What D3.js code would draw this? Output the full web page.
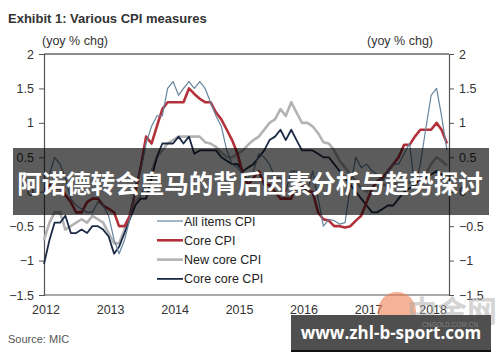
<!DOCTYPE html>
<html>
<head>
<meta charset="utf-8">
<script src="https://cdn.jsdelivr.net/npm/d3@7"></script>
<style>
  body { margin: 0; background: #fff; }
  svg { display: block; font-family: "Liberation Sans", Arial, sans-serif; }
</style>
</head>
<body>
<svg id="graphic-svg" width="500" height="362"></svg>
<script>
// monthly, Jan 2012 .. Apr 2018 (yoy % chg)
var startMonth = new Date(2012, 0, 1);
var endMonth = new Date(2018, 3, 1);
var yearLabels = ["2012", "2013", "2014", "2015", "2016", "2017", "2018"];
var yTicks = [-1.5, -1, -0.5, 0, 0.5, 1, 1.5, 2];
var seriesNames = ["All items CPI", "Core CPI", "New core CPI", "Core core CPI"];

var allItems = [0.1, 0.25, 0.5, 0.4, 0.2, -0.1, -0.2, -0.25, -0.3, -0.3, -0.15, -0.2,
  -0.35, -0.7, -0.9, -0.7, -0.4, 0.1, 0.3, 0.7, 0.95, 1.1, 1.1, 1.5,
  1.6, 1.4, 1.5, 1.6, 1.5, 1.6, 1.5, 1.3, 1.1, 0.95, 0.6, 0.4,
  0.35, 0.25, 0.2, 0.3, 0.55, 0.5, 0.4, 0.2, 0.2, 0.0, 0.3, 0.3,
  0.2, 0.0, 0.3, -0.1, -0.5, -0.4, -0.42, -0.47, -0.45, 0.1, 0.5, 0.35,
  0.4, 0.3, 0.25, 0.15, 0.3, 0.4, 0.4, 0.55, 0.7, 0.05, 0.4, 0.9,
  1.4, 1.5, 1.1, 0.6];
var coreCPI = [0.0, 0.1, 0.05, 0.05, -0.05, -0.15, -0.3, -0.3, -0.15, -0.1, -0.1, -0.2,
  -0.25, -0.3, -0.5, -0.5, -0.35, 0.0, 0.35, 0.8, 0.7, 0.95, 1.2, 1.3,
  1.3, 1.3, 1.3, 1.5, 1.42, 1.35, 1.3, 1.3, 1.15, 1.05, 0.9, 0.75,
  0.55, 0.25, 0.1, 0.2, 0.3, 0.1, 0.1, 0.0, -0.1, -0.1, -0.1, 0.1,
  0.1, 0.0, 0.0, -0.3, -0.4, -0.42, -0.5, -0.5, -0.52, -0.5, -0.42, -0.35,
  -0.15, 0.05, 0.15, 0.2, 0.3, 0.4, 0.5, 0.68, 0.68, 0.8, 0.9, 0.9,
  0.9, 1.0, 0.9, 0.7];
var newCore = [-0.7, -0.45, -0.3, -0.3, -0.55, -0.5, -0.45, -0.4, -0.45, -0.35, -0.4, -0.45,
  -0.6, -0.75, -0.75, -0.55, -0.35, -0.15, -0.05, 0.1, 0.3, 0.5, 0.6, 0.7,
  0.75, 0.8, 0.8, 0.8, 0.8, 0.8, 0.72, 0.7, 0.65, 0.57, 0.5, 0.5,
  0.55, 0.6, 0.68, 0.75, 0.8, 0.9, 1.0, 1.05, 1.2, 1.1, 1.3, 1.15,
  1.0, 1.0, 0.95, 0.85, 0.72, 0.7, 0.6, 0.45, 0.35, 0.25, 0.15, 0.05,
  0.0, 0.05, 0.05, 0.1, 0.1, 0.1, 0.15, 0.15, 0.13, 0.2, 0.23, 0.25,
  0.4, 0.5, 0.45, 0.38];
var coreCore = [-1.05, -0.7, -0.45, -0.45, -0.35, -0.6, -0.6, -0.55, -0.6, -0.5, -0.5, -0.55,
  -0.65, -0.9, -0.8, -0.6, -0.4, -0.2, -0.1, -0.1, 0.2, 0.5, 0.7, 0.7,
  0.7, 0.8, 0.7, 0.8, 0.55, 0.6, 0.6, 0.6, 0.6, 0.5, 0.45, 0.4,
  0.4, 0.3, 0.35, 0.4, 0.5, 0.6, 0.75, 0.8, 0.9, 0.75, 0.9, 0.75,
  0.6, 0.6, 0.6, 0.55, 0.5, 0.5, 0.4, 0.3, 0.2, 0.1, 0.0, -0.1,
  -0.2, -0.3, -0.3, -0.25, -0.2, -0.2, -0.1, 0.0, 0.05, 0.1, 0.2, 0.2,
  0.25, 0.3, 0.25, 0.25];

function init() {
  var svg = d3.select("#graphic-svg");
  var margin = { left: 44, right: 51, top: 54, bottom: 67 };
  var width = 500, height = 362;
  var months = d3.timeMonth.range(startMonth, d3.timeMonth.offset(endMonth, 1));

  var x = d3.scaleTime().domain([startMonth, endMonth]).range([margin.left, 447]);
  var y = d3.scaleLinear().domain([-1.5, 2]).range([height - margin.bottom, margin.top]);

  // Title
  svg.append("text")
     .attr("x", 8).attr("y", 23)
     .attr("font-size", 13).attr("font-weight", "bold").attr("fill", "#333")
     .text("Exhibit 1: Various CPI measures");
  svg.append("text")
     .attr("x", 42).attr("y", 45)
     .attr("font-size", 12.5).attr("fill", "#333")
     .text("(yoy % chg)");
  svg.append("text")
     .attr("x", 367).attr("y", 45)
     .attr("font-size", 12.5).attr("fill", "#333")
     .text("(yoy % chg)");

  // Frame: top and bottom lines
  svg.append("line")
     .attr("x1", margin.left).attr("x2", 449)
     .attr("y1", y(2)).attr("y2", y(2))
     .attr("stroke", "#666").attr("stroke-width", 1.5);
  svg.append("line")
     .attr("x1", margin.left).attr("x2", 449)
     .attr("y1", y(-1.5)).attr("y2", y(-1.5))
     .attr("stroke", "#555").attr("stroke-width", 1.2);

  // Axes, left and right
  var yLeft = d3.axisLeft(y).tickValues(yTicks).tickSize(5).tickPadding(5)
     .tickFormat(d3.format("~g"));
  var gl = svg.append("g").attr("transform", "translate(" + margin.left + ",0)").call(yLeft);
  var yRight = d3.axisRight(y).tickValues(yTicks).tickSize(5).tickPadding(5)
     .tickFormat(d3.format("~g"));
  var gr = svg.append("g").attr("transform", "translate(449,0)").call(yRight);
  [gl, gr].forEach(function(g) {
    g.select(".domain").attr("stroke", "#555").attr("stroke-width", 1.2);
    g.selectAll(".tick line").attr("stroke", "#555");
    g.selectAll(".tick text").attr("font-size", 12.5).attr("fill", "#333")
     .attr("font-family", "'Liberation Sans', Arial, sans-serif");
  });

  // Year labels
  svg.selectAll(".year")
     .data(yearLabels)
     .enter()
     .append("text")
     .attr("class", "year")
     .attr("x", function(d) { return x(new Date(+d, 0, 1)) + 2; })
     .attr("y", 314)
     .attr("text-anchor", "middle")
     .attr("font-size", 12.5).attr("fill", "#333")
     .text(function(d) { return d; });

  // Lines
  var line = d3.line()
     .x(function(d, i) { return x(months[i]); })
     .y(function(d) { return y(d); });

  var styles = [
    { data: newCore, color: "#b3b3b3", w: 2.6 },
    { data: coreCore, color: "#1c2b45", w: 1.8 },
    { data: coreCPI, color: "#b3313b", w: 2.6 },
    { data: allItems, color: "#67859c", w: 1.2 }
  ];
  styles.forEach(function(s) {
    svg.append("path")
       .datum(s.data)
       .attr("d", line)
       .attr("fill", "none")
       .attr("stroke", s.color)
       .attr("stroke-width", s.w)
       .attr("stroke-linejoin", "round");
  });

  // Legend
  var legendColors = { "All items CPI": ["#67859c", 1.2], "Core CPI": ["#b3313b", 2.6],
    "New core CPI": ["#b3b3b3", 2.6], "Core core CPI": ["#1c2b45", 1.8] };
  var lg = svg.selectAll(".legend")
     .data(seriesNames)
     .enter()
     .append("g")
     .attr("class", "legend")
     .attr("transform", function(d, i) { return "translate(157," + (221 + i * 19.3) + ")"; });
  lg.append("line")
     .attr("x1", 0).attr("x2", 26).attr("y1", 0).attr("y2", 0)
     .attr("stroke", function(d) { return legendColors[d][0]; })
     .attr("stroke-width", function(d) { return legendColors[d][1]; });
  lg.append("text")
     .attr("x", 27).attr("y", 4.5)
     .attr("font-size", 12.5).attr("fill", "#222")
     .text(function(d) { return d; });

  // Source
  svg.append("text")
     .attr("x", 8).attr("y", 343)
     .attr("font-size", 11).attr("fill", "#555")
     .text("Source: MIC");

  // Watermark logo
  svg.append("circle")
     .attr("cx", 397).attr("cy", 311).attr("r", 19)
     .attr("fill", "#ee7f50").attr("opacity", 0.6);
  svg.append("text")
     .attr("x", 452).attr("y", 322).attr("text-anchor", "middle")
     .attr("font-size", 30).attr("font-weight", "bold").attr("fill", "#aaa").attr("opacity", 0.5)
     .attr("font-family", "'Noto Sans CJK SC', sans-serif")
     .text("中金网");

  // Overlay banner
  svg.append("rect")
     .attr("x", 13).attr("y", 148).attr("width", 476).attr("height", 67)
     .attr("fill", "#000").attr("opacity", 0.64);
  svg.append("text")
     .attr("x", 250).attr("y", 193).attr("text-anchor", "middle")
     .attr("font-size", 24.5).attr("font-weight", "bold").attr("fill", "#fff")
     .attr("font-family", "'Noto Sans CJK SC', sans-serif")
     .text("阿诺德转会皇马的背后因素分析与趋势探讨");

  // Bottom tag
  svg.append("rect")
     .attr("x", 291).attr("y", 315).attr("width", 200).attr("height", 37)
     .attr("fill", "#4f4f4f");
  svg.append("rect")
     .attr("x", 291).attr("y", 350).attr("width", 200).attr("height", 2)
     .attr("fill", "#111");
  svg.append("text")
     .attr("x", 450).attr("y", 327).attr("text-anchor", "middle")
     .attr("font-size", 6.5).attr("fill", "#999").attr("opacity", 0.7)
     .text("CNGOLD.COM.CN");
  svg.append("text")
     .attr("x", 391).attr("y", 339).attr("text-anchor", "middle")
     .attr("font-size", 17).attr("font-weight", "bold").attr("fill", "#fff")
     .attr("font-family", "'Open Sans', 'DejaVu Sans', sans-serif")
     .text("www.zhl-b-sport.com");
}

init();
</script>
</body>
</html>
